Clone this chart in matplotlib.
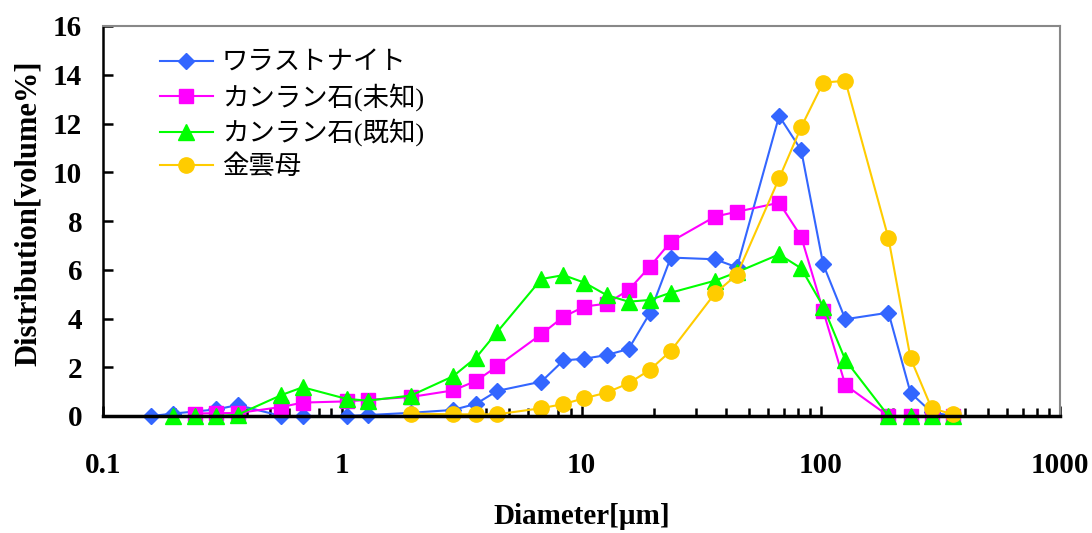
import matplotlib
matplotlib.use("Agg")
import matplotlib.pyplot as plt
from matplotlib.ticker import LogLocator, NullFormatter, FixedLocator, FixedFormatter

# ---- data ----
wol_x = [0.159, 0.197, 0.298, 0.365, 0.557, 0.683, 1.044, 1.279, 1.938, 2.906, 3.628, 4.444,
         6.797, 8.404, 10.29, 12.73, 15.74, 19.28, 23.62, 36.12, 44.66, 66.99, 82.81, 102.4,
         126.7, 191.9, 237.3, 290.6, 355.9]
wol_y = [0.0, 0.1, 0.27, 0.45, 0.0, 0.0, 0.0, 0.04, 0.13, 0.25, 0.5, 1.03,
         1.41, 2.28, 2.35, 2.5, 2.75, 4.21, 6.5, 6.43, 6.1, 12.31, 10.91, 6.22,
         3.97, 4.24, 0.95, 0.15, 0.0]

olu_x = [0.243, 0.298, 0.365, 0.557, 0.683, 1.044, 1.279, 1.938, 2.906, 3.628, 4.444,
         6.797, 8.404, 10.29, 12.73, 15.74, 19.28, 23.62, 36.12, 44.66, 66.99, 82.81, 102.4,
         126.7, 191.9, 237.3, 290.6, 355.9]
olu_y = [0.1, 0.12, 0.12, 0.37, 0.55, 0.6, 0.66, 0.78, 1.05, 1.44, 2.04,
         3.36, 4.07, 4.49, 4.61, 5.17, 6.12, 7.15, 8.18, 8.38, 8.75, 7.36, 4.31,
         1.27, 0.0, 0.0, 0.0, 0.0]

olk_x = [0.197, 0.243, 0.298, 0.365, 0.557, 0.683, 1.044, 1.279, 1.938, 2.906, 3.628, 4.444,
         6.797, 8.404, 10.29, 12.73, 15.74, 19.28, 23.62, 36.12, 44.66, 66.99, 82.81, 102.4,
         126.7, 191.9, 237.3, 290.6, 355.9]
olk_y = [0.0, 0.0, 0.0, 0.05, 0.86, 1.18, 0.7, 0.63, 0.84, 1.63, 2.4, 3.45,
         5.62, 5.78, 5.47, 4.96, 4.69, 4.76, 5.06, 5.55, 5.9, 6.63, 6.06, 4.49,
         2.3, 0.0, 0.0, 0.0, 0.0]

phl_x = [1.938, 2.906, 3.628, 4.444, 6.797, 8.404, 10.29, 12.73, 15.74, 19.28, 23.62,
         36.12, 44.66, 66.99, 82.81, 102.4, 126.7, 191.9, 237.3, 290.6, 355.9]
phl_y = [0.1, 0.07, 0.07, 0.07, 0.32, 0.49, 0.73, 0.96, 1.34, 1.89, 2.67,
         5.03, 5.8, 9.75, 11.85, 13.68, 13.75, 7.29, 2.37, 0.32, 0.07]

labels = ["ワラストナイト", "カンラン石(未知)", "カンラン石(既知)", "金雲母"]
y_ticks = [0, 2, 4, 6, 8, 10, 12, 14, 16]
x_ticks = [0.1, 1, 10, 100, 1000]
x_tick_labels = ["0.1", "1", "10", "100", "1000"]

plt.rcParams['font.family'] = ['Liberation Serif', 'Noto Sans CJK JP']

fig = plt.figure(figsize=(10.92, 5.33), dpi=100)
ax = fig.add_axes([103/1092, 1-416/533, (1060-103)/1092, (416-26)/533])

ax.plot(wol_x, wol_y, color='#3366FF', marker='D', ms=8.5, lw=1.5, label=labels[0], clip_on=False)
ax.plot(olu_x, olu_y, color='#FF00FF', marker='s', ms=10.5, lw=1.5, label=labels[1], clip_on=False)
ax.plot(olk_x, olk_y, color='#00FF00', marker='^', ms=11.5, lw=1.5, label=labels[2], clip_on=False)
ax.plot(phl_x, phl_y, color='#FFCC00', marker='o', ms=11, lw=1.5, label=labels[3], clip_on=False)

ax.set_xscale('log')
ax.set_xlim(0.1, 1000)
ax.set_ylim(0, 16)

ax.xaxis.set_major_locator(FixedLocator(x_ticks))
ax.xaxis.set_major_formatter(FixedFormatter(x_tick_labels))
ax.xaxis.set_minor_locator(LogLocator(base=10, subs=range(2, 10)))
ax.xaxis.set_minor_formatter(NullFormatter())
ax.set_yticks(y_ticks)

for s in ['top', 'right']:
    ax.spines[s].set_color('#888888')
    ax.spines[s].set_linewidth(1.5)
ax.spines['left'].set_linewidth(1.8)
ax.spines['bottom'].set_linewidth(2.5)
ax.spines['left'].set_zorder(0)

ax.tick_params(axis='both', which='major', direction='in', width=1.8, length=7,
               labelsize=21, top=False, right=False)
ax.tick_params(axis='x', which='major', pad=26)
ax.tick_params(axis='y', which='major', pad=15)
ax.tick_params(axis='x', which='minor', direction='in', width=1.8, length=5.5, top=False)
for t in ax.get_xticklabels() + ax.get_yticklabels():
    t.set_fontweight('bold')

ax.set_xlabel('Diameter[µm]', fontsize=21, fontweight='bold', labelpad=17)
ax.set_ylabel('Distribution[volume%]', fontsize=22, fontweight='bold')
ax.yaxis.set_label_coords(-0.063, 0.52)

leg = ax.legend(loc='upper left', bbox_to_anchor=(0.0596, 0.935), frameon=False,
                fontsize=19, handlelength=2.0, handletextpad=0.35, labelspacing=0.3,
                borderpad=0, borderaxespad=0)

fig.savefig('out.png', dpi=100)
